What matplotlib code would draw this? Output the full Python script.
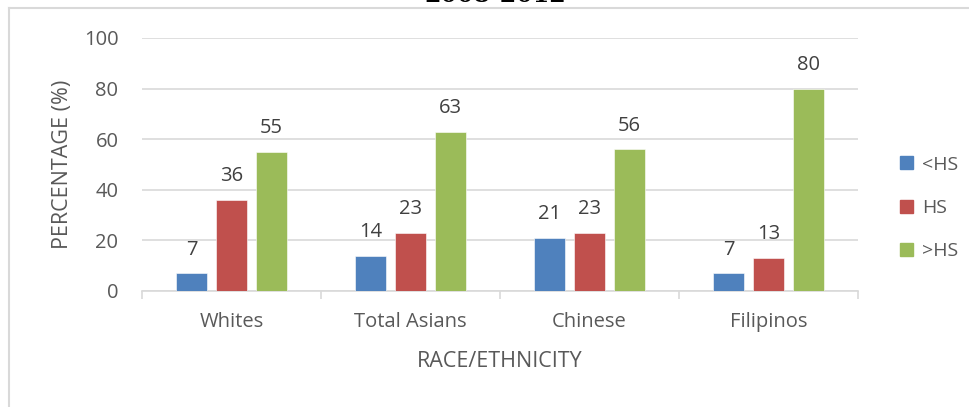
import numpy as np
import matplotlib
matplotlib.use('Agg')
from matplotlib import pyplot as plt
from matplotlib.patches import Patch

categories = ['Whites', 'Total Asians', 'Chinese', 'Filipinos']
series = ['<HS', 'HS', '>HS']
lt_hs = [7, 14, 21, 7]
hs = [36, 23, 23, 13]
gt_hs = [55, 63, 56, 80]
colors = ['#4F81BD', '#C0504D', '#9BBB59']
yticks = [0, 20, 40, 60, 80, 100]

txt = '#595959'
plt.rcParams['font.family'] = ['Open Sans', 'DejaVu Sans']

W, H = 970, 407
fig = plt.figure(figsize=(W / 100, H / 100), dpi=100)

# outer chart border (only top and left visible)
fig.add_artist(plt.Line2D([9 / W, 9 / W], [0, 1 - 8 / H], color='#d9d9d9', lw=1.5))
fig.add_artist(plt.Line2D([9 / W, 1], [1 - 8 / H, 1 - 8 / H], color='#d9d9d9', lw=1.5))

# title, cut off at the top
fig.text(495 / W, 1 - 2.5 / H, '2008-2012', ha='center', va='baseline',
         family='DejaVu Serif', fontweight='bold', fontsize=17, color='black')

ax = fig.add_axes([142 / W, (H - 291) / H, 716 / W, 253 / H])

x = np.arange(len(categories))
bw = 0.175
step = 0.223
vals = [lt_hs, hs, gt_hs]
for i, v in enumerate(vals):
    pos = x + (i - 1) * step
    ax.bar(pos, v, bw, color=colors[i], edgecolor='white', linewidth=0.4, zorder=3)
    for xp, yv in zip(pos, v):
        ax.annotate(str(yv), (xp, yv), xytext=(0, 13.5), textcoords='offset points',
                    ha='center', va='baseline', fontsize=14.5, color='#404040')

ax.set_xlim(-0.5, len(categories) - 0.5)
ax.set_ylim(0, 100)
ax.set_yticks(yticks)
ax.yaxis.grid(True, color='#d9d9d9', lw=1.2, zorder=0)
ax.set_axisbelow(True)
for s in ['top', 'right', 'left']:
    ax.spines[s].set_visible(False)
ax.spines['bottom'].set_color('#d9d9d9')
ax.spines['bottom'].set_linewidth(1.2)
ax.tick_params(axis='y', length=0, labelsize=14.5, labelcolor=txt, pad=17)
ax.set_xticks(x)
ax.set_xticklabels(categories)
ax.tick_params(axis='x', length=0, labelsize=14.5, labelcolor=txt, pad=15)
ax.set_xticks(np.arange(len(categories) + 1) - 0.5, minor=True)
ax.tick_params(axis='x', which='minor', length=6, color='#d9d9d9', width=1.2)

ax.set_ylabel('PERCENTAGE (%)', fontsize=15.5, color=txt, labelpad=8)
ax.set_xlabel('RACE/ETHNICITY', fontsize=15.5, color=txt, labelpad=14)

handles = [Patch(color=c, label=s) for c, s in zip(colors, series)]
fig.legend(handles=handles, loc='center left', bbox_to_anchor=(883 / W, (H - 208) / H),
           frameon=False, fontsize=14, labelcolor=txt, handlelength=0.65,
           handleheight=0.65, handletextpad=0.45, labelspacing=1.3)

fig.savefig('out.png', dpi=100)
